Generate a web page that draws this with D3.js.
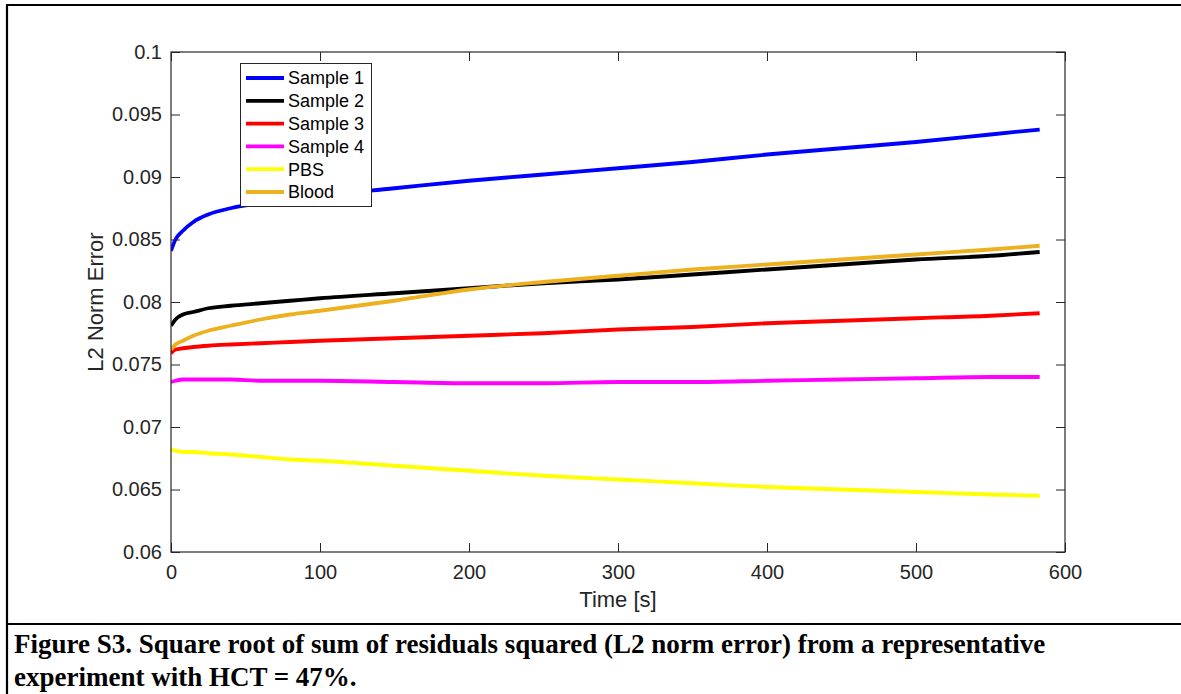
<!DOCTYPE html>
<html>
<head>
<meta charset="utf-8">
<script src="https://cdn.jsdelivr.net/npm/d3@7"></script>
<style>
    html, body { margin: 0; padding: 0; background: #fff; }
    svg { display: block; }
</style>
</head>
<body>
<div id="chart"></div>
<script>
// =============================================================================
// L2 norm error vs time — MATLAB-style line plot inside a framed figure box.
// =============================================================================

const timeS = [0, 3, 8, 15, 25, 40, 60, 80, 100, 150, 200, 250, 300, 350, 400, 450, 500, 550, 583];

const sample1 = [0.0841, 0.0850, 0.0857, 0.0864, 0.0870, 0.0875, 0.0879, 0.0882, 0.0885, 0.0891,
                 0.0897, 0.0902, 0.0907, 0.0912, 0.0918, 0.0923, 0.0928, 0.0934, 0.0938];
const sample2 = [0.0781, 0.0786, 0.0790, 0.0792, 0.0795, 0.0797, 0.0799, 0.0801, 0.0803, 0.0807,
                 0.0811, 0.0815, 0.0818, 0.0822, 0.0826, 0.0830, 0.0834, 0.0837, 0.0840];
const sample3 = [0.0759, 0.0762, 0.0763, 0.0764, 0.0765, 0.0766, 0.0767, 0.0768, 0.0769, 0.0771,
                 0.0773, 0.0775, 0.0778, 0.0780, 0.0783, 0.0785, 0.0787, 0.0789, 0.0791];
const sample4 = [0.0736, 0.0737, 0.0738, 0.0738, 0.0738, 0.0738, 0.0737, 0.0737, 0.0737, 0.0736,
                 0.0735, 0.0735, 0.0736, 0.0736, 0.0737, 0.0738, 0.0739, 0.0740, 0.0740];
const pbs     = [0.0682, 0.0681, 0.0680, 0.0680, 0.0679, 0.0678, 0.0676, 0.0674, 0.0673, 0.0669,
                 0.0665, 0.0661, 0.0658, 0.0655, 0.0652, 0.0650, 0.0648, 0.0646, 0.0645];
const blood   = [0.0762, 0.0766, 0.0769, 0.0773, 0.0777, 0.0781, 0.0786, 0.0790, 0.0793, 0.0801,
                 0.0810, 0.0816, 0.0821, 0.0826, 0.0830, 0.0834, 0.0838, 0.0842, 0.0845];

const seriesNames = ["Sample 1", "Sample 2", "Sample 3", "Sample 4", "PBS", "Blood"];
const seriesValues = [sample1, sample2, sample3, sample4, pbs, blood];
const seriesColors = ["#0000ff", "#000000", "#ff0000", "#ff00ff", "#ffff00", "#edb120"];

const xTicks = [0, 100, 200, 300, 400, 500, 600];
const yTicks = [0.06, 0.065, 0.07, 0.075, 0.08, 0.085, 0.09, 0.095, 0.1];

const captionLines = [
    "Figure S3. Square root of sum of residuals squared (L2 norm error) from a representative",
    "experiment with HCT = 47%."
];

// ---- geometry --------------------------------------------------------------
const W = 1181, H = 694;
const plotBox = { left: 171, top: 52, right: 1065, bottom: 552 };
const AXIS = "#262626";
const SANS = "Arial, 'Liberation Sans', Helvetica, sans-serif";
const TICK = 9;
const LINE_W = 3.8;

const svg = d3.select("#chart").append("svg")
    .attr("width", W).attr("height", H)
    .attr("viewBox", `0 0 ${W} ${H}`);

svg.append("rect").attr("width", W).attr("height", H).attr("fill", "#fff");

// outer figure frame + caption separator
const frame = svg.append("g").attr("stroke", "#000").attr("stroke-width", 2.2).attr("fill", "none");
frame.append("line").attr("x1", 7).attr("x2", 7).attr("y1", 5).attr("y2", H);
frame.append("line").attr("x1", 6).attr("x2", W).attr("y1", 5).attr("y2", 5);
frame.append("line").attr("x1", 6).attr("x2", W).attr("y1", 624).attr("y2", 624);

const x = d3.scaleLinear().domain([0, 600]).range([plotBox.left, plotBox.right]);
const y = d3.scaleLinear().domain([0.06, 0.1]).range([plotBox.bottom, plotBox.top]);

// ---- data lines (clipped to the axes) ---------------------------------------
svg.append("clipPath").attr("id", "plot-clip").append("rect")
    .attr("x", plotBox.left).attr("y", plotBox.top)
    .attr("width", plotBox.right - plotBox.left)
    .attr("height", plotBox.bottom - plotBox.top);

const line = d3.line()
    .x((d, i) => x(timeS[i]))
    .y(d => y(d))
    .curve(d3.curveMonotoneX);

const lines = svg.append("g").attr("clip-path", "url(#plot-clip)");
seriesValues.forEach((vals, k) => {
    lines.append("path")
        .attr("d", line(vals))
        .attr("fill", "none")
        .attr("stroke", seriesColors[k])
        .attr("stroke-width", LINE_W)
        .attr("stroke-linejoin", "round");
});

// ---- axes: box + inward ticks on all four sides ------------------------------
function styleAxis(g) {
    g.select(".domain").remove();
    g.selectAll(".tick line").attr("stroke", AXIS).attr("stroke-width", 1);
    g.selectAll(".tick text").attr("fill", AXIS)
        .style("font-family", SANS).style("font-size", "20px");
}

svg.append("g").attr("transform", `translate(0,${plotBox.bottom})`)
    .call(d3.axisBottom(x).tickValues(xTicks).tickFormat(d3.format("d"))
        .tickSizeInner(-TICK).tickSizeOuter(0).tickPadding(13))
    .call(styleAxis);

svg.append("g").attr("transform", `translate(0,${plotBox.top})`)
    .call(d3.axisTop(x).tickValues(xTicks).tickFormat("")
        .tickSizeInner(-TICK).tickSizeOuter(0))
    .call(styleAxis);

svg.append("g").attr("transform", `translate(${plotBox.left},0)`)
    .call(d3.axisLeft(y).tickValues(yTicks).tickFormat(d => d3.format("")(+d.toFixed(3)))
        .tickSizeInner(-TICK).tickSizeOuter(0).tickPadding(9))
    .call(styleAxis);

svg.append("g").attr("transform", `translate(${plotBox.right},0)`)
    .call(d3.axisRight(y).tickValues(yTicks).tickFormat("")
        .tickSizeInner(-TICK).tickSizeOuter(0))
    .call(styleAxis);

svg.append("rect")
    .attr("x", plotBox.left).attr("y", plotBox.top)
    .attr("width", plotBox.right - plotBox.left)
    .attr("height", plotBox.bottom - plotBox.top)
    .attr("fill", "none").attr("stroke", AXIS).attr("stroke-width", 1.2);

// axis labels
svg.append("text")
    .attr("x", (plotBox.left + plotBox.right) / 2).attr("y", 607)
    .attr("text-anchor", "middle").attr("fill", AXIS)
    .style("font-family", SANS).style("font-size", "22px")
    .text("Time [s]");

svg.append("text")
    .attr("transform", `translate(103,${(plotBox.top + plotBox.bottom) / 2}) rotate(-90)`)
    .attr("text-anchor", "middle").attr("fill", AXIS)
    .style("font-family", SANS).style("font-size", "22px")
    .text("L2 Norm Error");

// ---- legend -----------------------------------------------------------------
const legend = svg.append("g").attr("transform", "translate(240.5,63.5)");
legend.append("rect")
    .attr("width", 131).attr("height", 143)
    .attr("fill", "#fff").attr("stroke", AXIS).attr("stroke-width", 1);

seriesNames.forEach((name, k) => {
    const cy = 14.5 + k * 22.8;
    legend.append("line")
        .attr("x1", 5.5).attr("x2", 43.5).attr("y1", cy).attr("y2", cy)
        .attr("stroke", seriesColors[k]).attr("stroke-width", LINE_W);
    legend.append("text")
        .attr("x", 47.5).attr("y", cy).attr("dy", "0.35em")
        .attr("fill", "#000")
        .style("font-family", SANS).style("font-size", "18px")
        .text(name);
});

// ---- caption ------------------------------------------------------------------
svg.append("g").selectAll("text")
    .data(captionLines)
    .join("text")
    .attr("x", 14).attr("y", (d, i) => 653 + i * 33)
    .attr("fill", "#000")
    .style("font-family", "'Times New Roman', 'Liberation Serif', serif")
    .style("font-weight", "bold").style("font-size", "27px")
    .text(d => d);
</script>
</body>
</html>
